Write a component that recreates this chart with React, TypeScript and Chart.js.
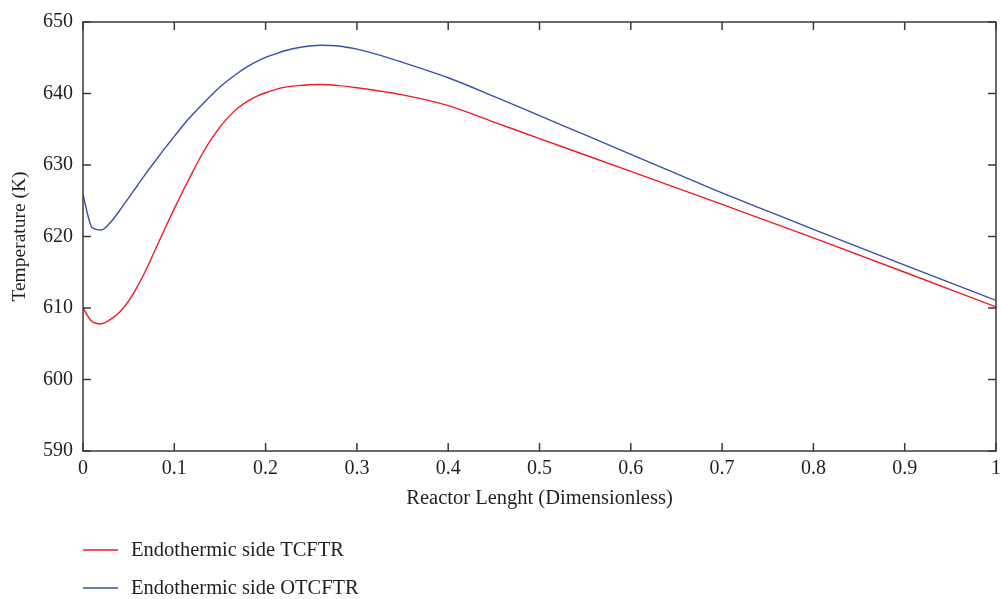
import React, { useEffect, useRef } from "react";
import { Chart, registerables } from "chart.js";

Chart.register(...registerables);

const tcftrX = [0, 0.01, 0.02, 0.03, 0.04, 0.05, 0.06, 0.07, 0.08, 0.09, 0.1, 0.11, 0.12, 0.13, 0.14, 0.15, 0.16, 0.17, 0.18, 0.19, 0.2, 0.22, 0.24, 0.26, 0.28, 0.3, 0.35, 0.4, 0.45, 0.5, 0.55, 0.6, 0.65, 0.7, 0.8, 0.9, 1];
const tcftrY = [610.0, 608.1, 607.8, 608.4, 609.4, 611.0, 613.1, 615.6, 618.4, 621.2, 623.9, 626.5, 629.0, 631.4, 633.5, 635.3, 636.8, 638.0, 638.9, 639.6, 640.1, 640.85, 641.15, 641.25, 641.1, 640.8, 639.8, 638.3, 636.0, 633.7, 631.4, 629.1, 626.8, 624.5, 619.8, 615.0, 610.15];

const otcftrX = [0, 0.01, 0.02, 0.03, 0.04, 0.05, 0.06, 0.07, 0.08, 0.09, 0.1, 0.11, 0.12, 0.13, 0.14, 0.15, 0.16, 0.17, 0.18, 0.19, 0.2, 0.21, 0.22, 0.24, 0.26, 0.28, 0.3, 0.32, 0.35, 0.4, 0.45, 0.5, 0.55, 0.6, 0.65, 0.7, 0.75, 0.8, 0.9, 1];
const otcftrY = [625.8, 621.25, 620.9, 621.95, 623.6, 625.4, 627.2, 629.0, 630.7, 632.4, 634.0, 635.6, 637.05, 638.4, 639.7, 640.9, 641.95, 642.9, 643.75, 644.45, 645.05, 645.5, 645.95, 646.5, 646.75, 646.65, 646.2, 645.55, 644.35, 642.2, 639.6, 636.9, 634.2, 631.5, 628.8, 626.1, 623.55, 621.0, 616.0, 611.06];

const seriesLabels = ["Endothermic side TCFTR", "Endothermic side OTCFTR"];
const seriesColors = ["#ee1c25", "#3a51a3"];

const xTicks = [0, 0.1, 0.2, 0.3, 0.4, 0.5, 0.6, 0.7, 0.8, 0.9, 1];
const yTicks = [590, 600, 610, 620, 630, 640, 650];

const xTitle = "Reactor Lenght (Dimensionless)";
const yTitle = "Temperature (K)";

const FONT = "'Liberation Serif', 'DejaVu Serif', serif";
const AXIS_COLOR = "#3a3a3a";
const TEXT_COLOR = "#231f20";

const frame = {
  id: "frameTicks",
  afterDatasetsDraw(chart: any) {
    const { ctx, chartArea: a, scales } = chart;
    const xs = scales.x;
    const ys = scales.y;
    const len = 8;
    ctx.save();
    ctx.strokeStyle = AXIS_COLOR;
    ctx.lineWidth = 1.5;
    ctx.beginPath();
    ctx.rect(a.left, a.top, a.right - a.left, a.bottom - a.top);
    ctx.stroke();
    ctx.beginPath();
    xTicks.forEach((v) => {
      const px = xs.getPixelForValue(v);
      ctx.moveTo(px, a.bottom);
      ctx.lineTo(px, a.bottom - len);
      ctx.moveTo(px, a.top);
      ctx.lineTo(px, a.top + len);
    });
    yTicks.forEach((v) => {
      const py = ys.getPixelForValue(v);
      ctx.moveTo(a.left, py);
      ctx.lineTo(a.left + len, py);
      ctx.moveTo(a.right, py);
      ctx.lineTo(a.right - len, py);
    });
    ctx.stroke();
    ctx.restore();
  },
  afterDraw(chart: any) {
    const { ctx } = chart;
    ctx.save();
    ctx.font = `20.5px ${FONT}`;
    ctx.textBaseline = "middle";
    ctx.fillStyle = TEXT_COLOR;
    chart.data.datasets.forEach((ds: any, i: number) => {
      const y = 550 + i * 38;
      ctx.strokeStyle = ds.borderColor;
      ctx.lineWidth = 1.5;
      ctx.beginPath();
      ctx.moveTo(83, y);
      ctx.lineTo(118, y);
      ctx.stroke();
      ctx.fillText(ds.label, 131, y + 1);
    });
    ctx.restore();
  },
};

export default function App() {
  const ref = useRef<HTMLCanvasElement>(null);
  useEffect(() => {
    document.body.style.margin = "0";
    const toPts = (xs: number[], ys: number[]) => xs.map((x, i) => ({ x, y: ys[i] }));
    const chart = new Chart(ref.current!, {
      type: "line",
      data: {
        datasets: [
          {
            label: seriesLabels[0],
            data: toPts(tcftrX, tcftrY),
            borderColor: seriesColors[0],
            borderWidth: 1.4,
            pointRadius: 0,
            cubicInterpolationMode: "monotone",
            fill: false,
          },
          {
            label: seriesLabels[1],
            data: toPts(otcftrX, otcftrY),
            borderColor: seriesColors[1],
            borderWidth: 1.4,
            pointRadius: 0,
            cubicInterpolationMode: "monotone",
            fill: false,
          },
        ],
      },
      options: {
        animation: false,
        responsive: false,
        maintainAspectRatio: false,
        layout: { padding: { left: 0, top: 22, right: 5, bottom: 86 } },
        plugins: { legend: { display: false }, tooltip: { enabled: false } },
        scales: {
          x: {
            type: "linear",
            min: 0,
            max: 1,
            afterBuildTicks: (s: any) => {
              s.ticks = xTicks.map((v) => ({ value: v }));
            },
            afterFit: (s: any) => {
              s.height = 62;
              s.paddingLeft = 0;
              s.paddingRight = 0;
            },
            grid: { display: false, drawTicks: false },
            border: { display: false },
            ticks: {
              padding: 6,
              color: TEXT_COLOR,
              font: { family: FONT, size: 20 },
              maxRotation: 0,
              autoSkip: false,
              callback: (v: any) => String(Math.round(Number(v) * 10) / 10),
            },
            title: {
              display: true,
              text: xTitle,
              color: TEXT_COLOR,
              font: { family: FONT, size: 20.5 },
              padding: { top: 0, bottom: 2 },
            },
          },
          y: {
            type: "linear",
            min: 590,
            max: 650,
            afterBuildTicks: (s: any) => {
              s.ticks = yTicks.map((v) => ({ value: v }));
            },
            afterFit: (s: any) => {
              s.width = 83;
              s.paddingTop = 0;
              s.paddingBottom = 0;
            },
            grid: { display: false, drawTicks: false },
            border: { display: false },
            ticks: {
              padding: 10,
              color: TEXT_COLOR,
              font: { family: FONT, size: 20 },
              autoSkip: false,
              callback: (v: any) => String(v),
            },
            title: {
              display: true,
              text: yTitle,
              color: TEXT_COLOR,
              font: { family: FONT, size: 19.5 },
              padding: { top: 8, bottom: 0 },
            },
          },
        },
      },
      plugins: [frame],
    });
    return () => chart.destroy();
  }, []);
  return (
    <div style={{ width: 1001, height: 599, background: "#fff" }}>
      <canvas ref={ref} width={1001} height={599} style={{ display: "block" }} />
    </div>
  );
}
